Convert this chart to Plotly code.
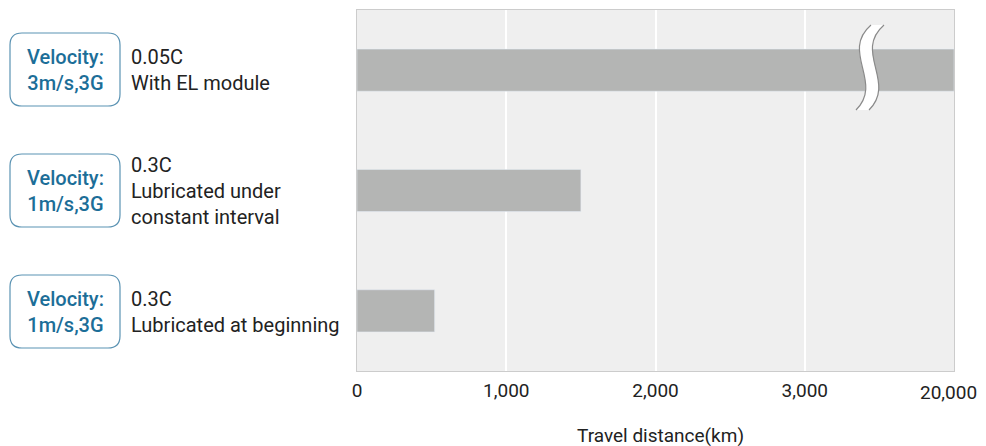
import plotly.graph_objects as go

# data
cases = ["EL module", "Constant interval", "At beginning"]
distance_km = [20000, 1500, 520]
velocity_labels = ["Velocity:<br>3m/s,3G", "Velocity:<br>1m/s,3G", "Velocity:<br>1m/s,3G"]
condition_labels = ["0.05C<br>With EL module",
                    "0.3C<br>Lubricated under<br>constant interval",
                    "0.3C<br>Lubricated at beginning"]
tick_values = [0, 1000, 2000, 3000, 20000]
tick_labels = ["0", "1,000", "2,000", "3,000", "20,000"]

# broken axis: everything past 3000 squeezed into the last 1000 units
BREAK_AT = 3000
AXIS_MAX = 20000


def squeeze(v):
    if v <= BREAK_AT:
        return v
    return BREAK_AT + (v - BREAK_AT) / (AXIS_MAX - BREAK_AT) * 1000


# page body has an 8px margin, so the figure is offset by 8px
OFF = 8
W, H = 978, 438
L, R, T, B = 349, 32, 2, 75
pw, ph = W - L - R, H - T - B


def px(x):  # screen x -> paper
    return (x - OFF - L) / pw


def py(y):  # screen y -> paper
    return (H - B - (y - OFF)) / ph


def rounded_box(x0, y0, x1, y1, r=12):
    rx, ry = r / pw, r / ph
    a, b, c, d = px(x0), px(x1), py(y0), py(y1)  # c top, d bottom
    return (f"M {a+rx},{c} L {b-rx},{c} Q {b},{c} {b},{c-ry} "
            f"L {b},{d+ry} Q {b},{d} {b-rx},{d} L {a+rx},{d} "
            f"Q {a},{d} {a},{d+ry} L {a},{c-ry} Q {a},{c} {a+rx},{c} Z")


fig = go.Figure(go.Bar(
    x=[squeeze(v) for v in distance_km],
    y=cases,
    orientation="h",
    marker_color="#b4b5b4",
    width=0.35,
    hoverinfo="skip",
))

centers = [70, 191, 312]
for i, c in enumerate(centers):
    fig.add_shape(type="path", xref="paper", yref="paper",
                  path=rounded_box(10, c - 37, 120, c + 36),
                  line=dict(color="#5b93b3", width=1.2))
    fig.add_annotation(xref="paper", yref="paper", x=px(65), y=py(c),
                       text=velocity_labels[i], showarrow=False,
                       xanchor="center", yanchor="middle", align="center",
                       font=dict(family="Roboto", size=20, color="#1c6e98", weight=500))
    fig.add_annotation(xref="paper", yref="paper", x=px(129), y=py(c),
                       text=condition_labels[i], showarrow=False,
                       xanchor="left", yanchor="middle", align="left",
                       font=dict(family="Roboto", size=20, color="#222222"))

# last tick label nudged left so it stays inside the page
fig.add_annotation(xref="paper", yref="paper", x=px(948), y=py(392),
                   text=tick_labels[-1], showarrow=False,
                   xanchor="center", yanchor="middle",
                   font=dict(family="Roboto", size=19, color="#222222"))


# break mark on the top bar
def s_curve(dx):
    return [(871 + dx, 25), (840 + dx, 52), (884 + dx, 82), (856 + dx, 110)]


def to_str(pts):
    (x0, y0), (x1, y1), (x2, y2), (x3, y3) = [(px(x), py(y)) for x, y in pts]
    return f"M {x0},{y0} C {x1},{y1} {x2},{y2} {x3},{y3}"


lc, rc = s_curve(0), s_curve(13)
fill = to_str(lc) + f" L {px(rc[3][0])},{py(rc[3][1])} C " + \
    f"{px(rc[2][0])},{py(rc[2][1])} {px(rc[1][0])},{py(rc[1][1])} {px(rc[0][0])},{py(rc[0][1])} Z"
fig.add_shape(type="path", xref="paper", yref="paper", path=fill,
              fillcolor="white", line=dict(width=0), layer="above")
for pts in (lc, rc):
    fig.add_shape(type="path", xref="paper", yref="paper", path=to_str(pts),
                  line=dict(color="#8a8a8a", width=1.2), layer="above")

fig.add_annotation(xref="paper", yref="paper", x=px(660), y=py(435),
                   text="Travel distance(km)", showarrow=False,
                   xanchor="center", yanchor="middle",
                   font=dict(family="Roboto", size=19, color="#222222"))

fig.update_layout(
    width=W, height=H,
    margin=dict(l=L, r=R, t=T, b=B),
    plot_bgcolor="#efefef",
    paper_bgcolor="white",
    showlegend=False,
    font=dict(family="Roboto", color="#222222"),
    xaxis=dict(
        range=[0, 4000],
        tickvals=[squeeze(v) for v in tick_values],
        ticktext=tick_labels[:-1] + [""],
        showgrid=True, gridcolor="white", gridwidth=1.5,
        zeroline=False,
        showline=True, mirror=True, linecolor="#cccccc", linewidth=1,
        tickfont=dict(size=19, color="#222222"),
        ticks="", ticklabelstandoff=2,
        fixedrange=True,
    ),
    yaxis=dict(
        categoryorder="array", categoryarray=cases[::-1],
        showticklabels=False, showgrid=False, zeroline=False,
        showline=True, mirror=True, linecolor="#cccccc", linewidth=1,
        fixedrange=True,
    ),
)

fig.write_html("out.html")
